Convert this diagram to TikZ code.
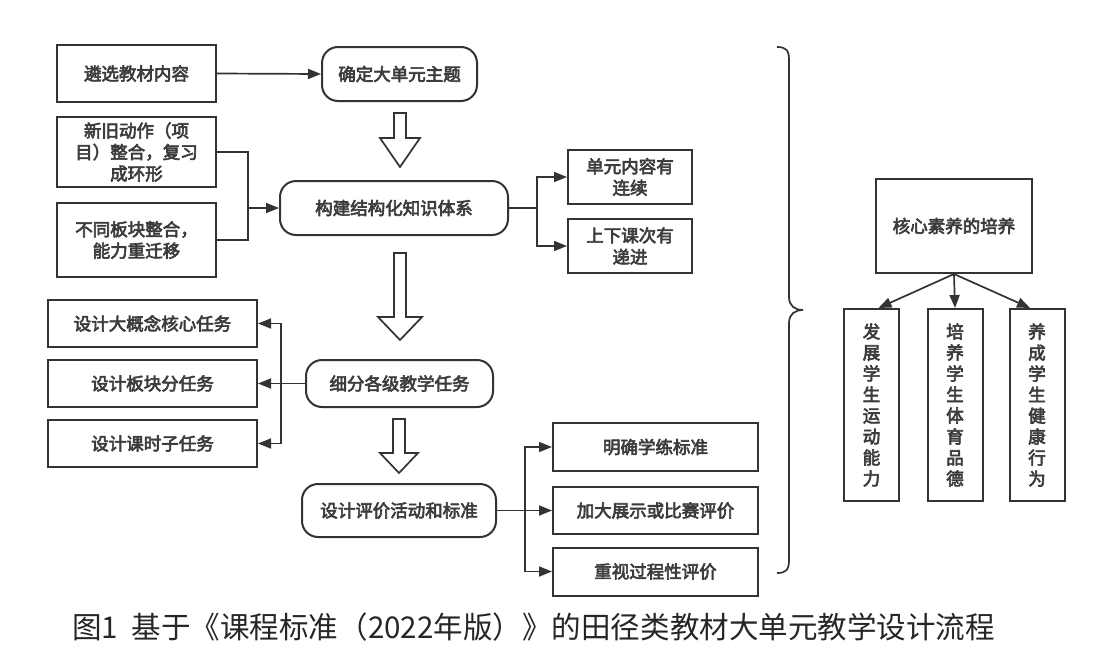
\documentclass[tikz,border=0pt]{standalone}
\usepackage{fontspec}
\setmainfont{Noto Sans CJK SC}
\newfontfamily\boxfont[FakeBold=3.5]{Noto Sans CJK SC}
\newfontfamily\capfont[FakeStretch=0.985]{Noto Sans CJK SC}
\usetikzlibrary{arrows.meta}
\definecolor{ink}{HTML}{333333}
\definecolor{txt}{HTML}{3C3C3C}
\begin{document}
\begin{tikzpicture}[x=1pt,y=-1pt,
  box/.style={draw=ink, line width=2pt, text=txt, align=center, inner sep=0pt,
    font=\boxfont\fontsize{17.5}{21.5}\selectfont},
  rbox/.style={box, rounded corners=16pt},
  vbox/.style={box, font=\boxfont\fontsize{17.5}{21}\selectfont, minimum width=55pt, minimum height=192pt},
  conn/.style={draw=ink, line width=1.7pt},
  arr/.style={conn, -{Triangle[length=13pt,width=10pt]}},
  hollow/.style={draw=ink, line width=1.7pt, fill=white, line join=miter},
  brace/.style={draw=ink, line width=1.7pt}
]
\useasboundingbox (0,0) rectangle (1101,667);

% left column
\node[box, minimum width=159pt, minimum height=57pt] (sel) at (136.5,73.5) {遴选教材内容};
\node[box, minimum width=159pt, minimum height=70pt] (old) at (136.5,152) {新旧动作（项\\目）整合，复习\\成环形};
\node[box, minimum width=159pt, minimum height=74pt] (diff) at (136.5,240) {不同板块整合，\\能力重迁移};

% central column
\node[rbox, minimum width=155pt, minimum height=54pt] (theme) at (399.5,74) {确定大单元主题};
\node[rbox, minimum width=228pt, minimum height=54pt] (build) at (394,208) {构建结构化知识体系};
\node[rbox, minimum width=187pt, minimum height=47pt] (sub) at (399.5,383.5) {细分各级教学任务};
\node[rbox, minimum width=194pt, minimum height=53pt] (eval) at (399,510.5) {设计评价活动和标准};

% right of build
\node[box, minimum width=124pt, minimum height=54pt] (cont) at (630,177) {单元内容有\\连续};
\node[box, minimum width=124pt, minimum height=54pt] (prog) at (630,246) {上下课次有\\递进};

% task boxes
\node[box, minimum width=209pt, minimum height=47pt] (t1) at (152.5,323.5) {设计大概念核心任务};
\node[box, minimum width=209pt, minimum height=47pt] (t2) at (152.5,383.5) {设计板块分任务};
\node[box, minimum width=209pt, minimum height=47pt] (t3) at (152.5,443.5) {设计课时子任务};

% evaluation boxes
\node[box, minimum width=205pt, minimum height=48pt] (e1) at (655.5,447) {明确学练标准};
\node[box, minimum width=205pt, minimum height=47pt] (e2) at (655.5,510.5) {加大展示或比赛评价};
\node[box, minimum width=205pt, minimum height=48pt] (e3) at (655.5,571.5) {重视过程性评价};

% core literacy
\node[box, minimum width=156pt, minimum height=94pt] (core) at (954,226) {核心素养的培养};
\node[vbox] (v1) at (871.5,405) {发\\展\\学\\生\\运\\动\\能\\力};
\node[vbox] (v2) at (955,405) {培\\养\\学\\生\\体\\育\\品\\德};
\node[vbox] (v3) at (1037,405) {养\\成\\学\\生\\健\\康\\行\\为};

% connectors
\draw[arr] (sel.east) -- (theme.west);

\coordinate (j1) at (248,208);
\draw[conn] (old.east) -| (j1);
\draw[conn] (diff.east) -| (j1);
\draw[arr] (j1) -- (build.west);

\coordinate (j2) at (537,208);
\draw[conn] (build.east) -- (j2);
\draw[arr] (j2) |- (cont.west);
\draw[arr] (j2) |- (prog.west);

\coordinate (j3) at (281,383.5);
\draw[arr] (sub.west) -- (t2.east);
\draw[arr] (j3) |- (t1.east);
\draw[arr] (j3) |- (t3.east);

\coordinate (j4) at (525,510.5);
\draw[arr] (eval.east) -- (e2.west);
\draw[arr] (j4) |- (e1.west);
\draw[arr] (j4) |- (e3.west);

\draw[arr] (core.south) -- ([xshift=7pt]v1.north);
\draw[arr] (core.south) -- (v2.north);
\draw[arr] (core.south) -- ([xshift=-7pt]v3.north);

% hollow arrows
\draw[hollow] (394,113) -- (406,113) -- (406,138) -- (420,138) -- (400,167) -- (380,138) -- (394,138) -- cycle;
\draw[hollow] (394,253) -- (406,253) -- (406,317) -- (422,317) -- (400,340) -- (378,317) -- (394,317) -- cycle;
\draw[hollow] (393,419) -- (405,419) -- (405,453) -- (418,453) -- (399,473) -- (380,453) -- (393,453) -- cycle;

% brace
\draw[brace] (777,47) .. controls (786,47) and (789,50) .. (789,60) -- (789,297)
  .. controls (789,306) and (795,310) .. (803,310)
  .. controls (795,310) and (789,314) .. (789,323) -- (789,560)
  .. controls (789,570) and (786,573) .. (777,573);

% caption
\node[anchor=west, inner sep=0pt, text=black!85, font=\capfont\fontsize{30}{32}\selectfont] (cap) at (72,627)
  {图1\hspace{0.45em}基于《课程标准（2022年版）》的田径类教材大单元教学设计流程};
\end{tikzpicture}
\end{document}
